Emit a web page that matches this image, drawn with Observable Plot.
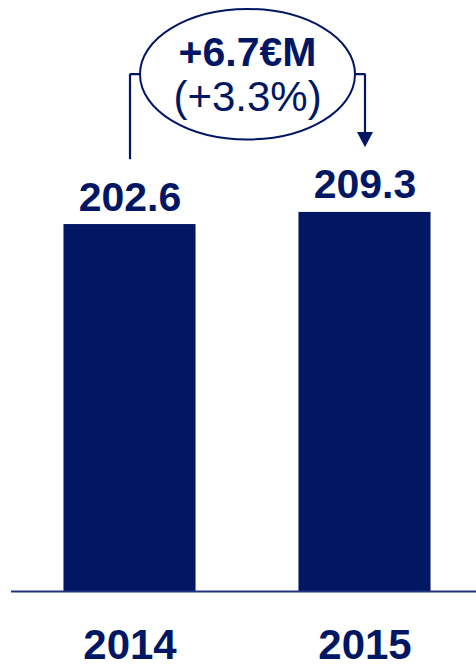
<!DOCTYPE html>
<html><head><meta charset="utf-8">
<script src="https://cdn.jsdelivr.net/npm/d3@7"></script>
<script src="https://cdn.jsdelivr.net/npm/@observablehq/plot@0.6"></script>
<style>body{margin:0;background:#fff}</style>
</head><body><div id="chart"></div>
<script>
// ---- data ----
const years = [2014, 2015];
const values = [202.6, 209.3];
const yearLabels = ["2014", "2015"];
const valueLabels = ["202.6", "209.3"];
const changeLabel = "+6.7€M";
const changePctLabel = "(+3.3%)";

// ---- styling / layout constants ----
const navy = "#011763";
const font = "Liberation Sans, Arial, Helvetica, sans-serif";
const barHalf = 0.281;     // half bar width in year units
const gap = 36;            // connector gap above the bars (value units)
const bridgeY = 285.6;     // level of the ellipse centre / bridge
const rxYears = 0.457;     // ellipse half-width in year units

const data = years.map((y, i) => ({year: y, value: values[i], label: valueLabels[i], yearLabel: yearLabels[i]}));
const mid = (years[0] + years[1]) / 2;

const leftPath = [
  {x: years[0], y: values[0] + gap},
  {x: years[0], y: bridgeY},
  {x: mid - rxYears, y: bridgeY}
];
const rightPath = [
  {x: mid + rxYears, y: bridgeY},
  {x: years[1], y: bridgeY},
  {x: years[1], y: values[1] + gap + 5}
];

const ellipseSymbol = {
  draw(ctx, size) {
    const rx = Math.sqrt(size / Math.PI), ry = rx * 0.607, k = 0.5523;
    ctx.moveTo(rx, 0);
    ctx.bezierCurveTo(rx, ry * k, rx * k, ry, 0, ry);
    ctx.bezierCurveTo(-rx * k, ry, -rx, ry * k, -rx, 0);
    ctx.bezierCurveTo(-rx, -ry * k, -rx * k, -ry, 0, -ry);
    ctx.bezierCurveTo(rx * k, -ry, rx, -ry * k, rx, 0);
    ctx.closePath();
  }
};
const arrowSymbol = {
  draw(ctx, size) {
    const r = Math.sqrt(size / Math.PI);
    ctx.moveTo(-r, -1.9 * r);
    ctx.lineTo(r, -1.9 * r);
    ctx.lineTo(0, 0);
    ctx.closePath();
  }
};

const chart = Plot.plot({
  width: 476,
  height: 664,
  marginTop: 0,
  marginBottom: 73,
  marginLeft: 11,
  marginRight: 0,
  x: {type: "linear", domain: [2013.4957, 2015.4745], axis: null},
  y: {domain: [0, 326.3], axis: null},
  style: {background: "#fff"},
  marks: [
    Plot.rectY(data, {x1: d => d.year - barHalf, x2: d => d.year + barHalf, y: "value", fill: navy}),
    Plot.ruleY([0], {stroke: "#22337f", strokeWidth: 2}),
    Plot.text(data, {x: "year", y: "value", text: "label", dy: -14, lineAnchor: "bottom",
      fontSize: 41, fontWeight: "bold", fill: navy, fontFamily: font}),
    Plot.text(data, {x: "year", frameAnchor: "bottom", text: "yearLabel", dy: 67, lineAnchor: "bottom",
      fontSize: 42, fontWeight: "bold", fill: navy, fontFamily: font}),
    Plot.line(leftPath, {x: "x", y: "y", stroke: navy, strokeWidth: 2.2, strokeLinejoin: "miter", strokeLinecap: "butt"}),
    Plot.line(rightPath, {x: "x", y: "y", stroke: navy, strokeWidth: 2.2, strokeLinejoin: "miter", strokeLinecap: "butt"}),
    Plot.dot([{x: mid, y: bridgeY}], {x: "x", y: "y", r: 107.5, symbol: ellipseSymbol, stroke: navy, strokeWidth: 2, fill: "none"}),
    Plot.dot([{x: years[1], y: values[1] + gap}], {x: "x", y: "y", r: 8, symbol: arrowSymbol, fill: navy, stroke: "none"}),
    Plot.text([{x: mid, y: bridgeY, t: changeLabel}], {x: "x", y: "y", text: "t", dy: -8, lineAnchor: "bottom",
      fontSize: 41, fontWeight: "bold", fill: navy, fontFamily: font}),
    Plot.text([{x: mid, y: bridgeY, t: changePctLabel}], {x: "x", y: "y", text: "t", dy: 37, lineAnchor: "bottom",
      fontSize: 42, fontWeight: "normal", fill: navy, fontFamily: font})
  ]
});
document.getElementById("chart").appendChild(chart);
</script>
</body></html>
